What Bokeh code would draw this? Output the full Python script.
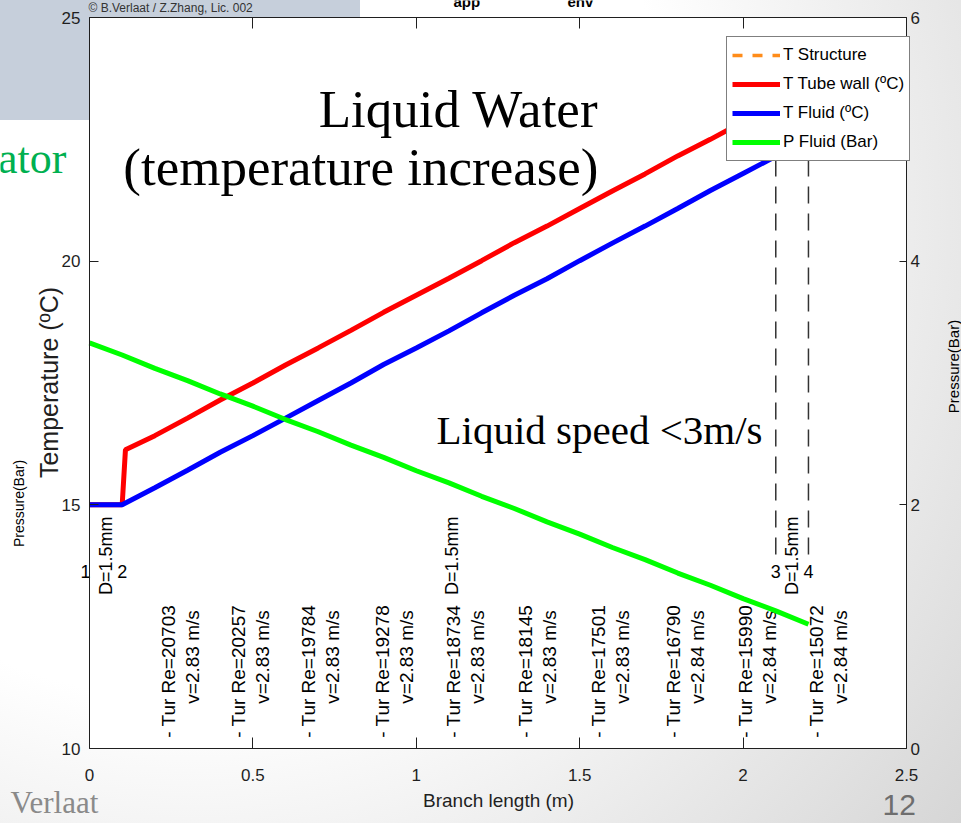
import math

from bokeh.plotting import figure
from bokeh.models import (Range1d, LinearAxis, FixedTicker, Label, Legend,
                          LegendItem, ColumnDataSource, CustomLabelingPolicy)
from bokeh.core.properties import value
from bokeh.embed import file_html
from bokeh.resources import INLINE

# ---------------------------------------------------------------- data
# Position along the branch (m)
branch_x = [0.0, 0.1, 0.2, 0.3, 0.4, 0.5, 0.6, 0.7, 0.8, 0.9, 1.0, 1.1,
            1.2, 1.3, 1.4, 1.5, 1.6, 1.7, 1.8, 1.9, 2.0, 2.1, 2.2]
# Fluid temperature (degC)
t_fluid = [15.00, 15.00, 15.35, 15.71, 16.08, 16.42, 16.78, 17.14, 17.50,
           17.88, 18.22, 18.57, 18.94, 19.30, 19.64, 20.01, 20.37, 20.72,
           21.08, 21.45, 21.80, 22.15, 22.52]
# Fluid pressure (bar)
p_fluid = [3.33, 3.23, 3.12, 3.02, 2.91, 2.81, 2.70, 2.60, 2.49, 2.39, 2.28,
           2.18, 2.07, 1.97, 1.86, 1.76, 1.65, 1.55, 1.44, 1.34, 1.23, 1.13,
           1.02]
# Tube wall temperature (degC), heated from 0.11 m on
wall_x = [0.0, 0.1, 0.11, 0.2, 0.3, 0.4, 0.5, 0.6, 0.7, 0.8, 0.9, 1.0, 1.1,
          1.2, 1.3, 1.4, 1.5, 1.6, 1.7, 1.8, 1.9, 2.0, 2.1, 2.2]
t_wall = [15.00, 15.00, 16.13, 16.42, 16.78, 17.15, 17.50, 17.87, 18.22,
          18.58, 18.95, 19.30, 19.65, 20.01, 20.38, 20.72, 21.08, 21.44,
          21.79, 22.16, 22.50, 22.86, 23.21, 23.57]
# Structure temperature: not sampled in this run
structure_x = [float("nan")]
t_structure = [float("nan")]

# Nodes of the branch
node_x = [0.0, 0.1, 2.1, 2.2]
node_names = ["1", "2", "3", "4"]
marked_node_x = [2.1, 2.2]
marker_t_low = 13.98
marker_t_high = 23.6

# Tube diameters
diam_x = [0.05, 1.11, 2.15]
diam_text = ["D=1.5mm", "D=1.5mm", "D=1.5mm"]

# Flow regime per section
section_x = [0.242, 0.456, 0.670, 0.896, 1.113, 1.333, 1.557, 1.786, 2.006,
             2.226]
section_re = [20703, 20257, 19784, 19278, 18734, 18145, 17501, 16790, 15990,
              15072]
section_v = [2.83, 2.83, 2.83, 2.83, 2.83, 2.83, 2.83, 2.84, 2.84, 2.84]

x_ticks = [0, 0.5, 1, 1.5, 2, 2.5]
t_ticks = [10, 15, 20, 25]
p_ticks = [0, 2, 4, 6]

# ---------------------------------------------------------------- layout
W, H = 961, 823
# pixel box of the axes inside the page
BOX_L, BOX_R, BOX_T, BOX_B = 89, 906, 17, 748

SANS = "Liberation Sans"
SERIF = "Liberation Serif"
INK = "#1f1f1f"

x_lo, x_hi = x_ticks[0], x_ticks[-1]
t_lo, t_hi = t_ticks[0], t_ticks[-1]
p_lo, p_hi = p_ticks[0], p_ticks[-1]


def stretch(lo, hi, px_lo, px_hi, px_min, px_max):
    """Range whose [lo, hi] lands on pixels [px_lo, px_hi] of a canvas
    spanning [px_min, px_max]."""
    k = (hi - lo) / (px_hi - px_lo)
    return Range1d(lo - (px_lo - px_min) * k, hi + (px_max - px_hi) * k)


# The frame fills the whole page; the axes are pinned to the data box.
p = figure(width=W, height=H,
           x_range=stretch(x_lo, x_hi, BOX_L, BOX_R, 0, W),
           y_range=stretch(t_lo, t_hi, H - BOX_B, H - BOX_T, 0, H),
           x_axis_location=None, y_axis_location=None,
           output_backend="svg", toolbar_location=None, min_border=0)
p.extra_y_ranges = {"pres": stretch(p_lo, p_hi, H - BOX_B, H - BOX_T, 0, H)}
p.xgrid.visible = False
p.ygrid.visible = False
p.background_fill_color = None
p.border_fill_color = None
p.outline_line_color = None
p.styles = {
    "background": (
        "linear-gradient(#c6cfdb, #c6cfdb) 0 0 / 360px 120px no-repeat, "
        "radial-gradient(circle farthest-corner at 20% 25%, "
        "#ffffff 50%, #d6d6d6 100%)"
    )
}

# white axes background
p.quad(left=x_lo, right=x_hi, bottom=t_lo, top=t_hi,
       fill_color="white", line_color=None)


def style_axis(ax, tick_len, standoff):
    ax.axis_line_color = INK
    ax.major_tick_line_color = INK
    ax.major_tick_in = tick_len
    ax.major_tick_out = 0
    ax.minor_tick_line_color = None
    ax.major_label_text_font = SANS
    ax.major_label_text_font_size = "17px"
    ax.major_label_text_color = INK
    ax.major_label_standoff = standoff


xa = LinearAxis(fixed_location=t_lo, bounds=(x_lo, x_hi),
                ticker=FixedTicker(ticks=x_ticks))
style_axis(xa, 11, 20)
p.add_layout(xa, "below")

# mirrored ticks along the top edge, without labels
ta = LinearAxis(fixed_location=t_hi, bounds=(x_lo, x_hi),
                ticker=FixedTicker(ticks=x_ticks),
                major_label_policy=CustomLabelingPolicy(code="return []"))
style_axis(ta, 11, 0)
p.add_layout(ta, "above")

ya = LinearAxis(fixed_location=x_lo, bounds=(t_lo, t_hi),
                ticker=FixedTicker(ticks=t_ticks))
style_axis(ya, 9, 9)
p.add_layout(ya, "left")

ra = LinearAxis(y_range_name="pres", fixed_location=x_hi,
                bounds=(p_lo, p_hi), ticker=FixedTicker(ticks=p_ticks))
style_axis(ra, 7, 4)
p.add_layout(ra, "right")

# ---------------------------------------------------------------- in-plot annotations
sections = ColumnDataSource(dict(
    x=section_x,
    line1=[f"- Tur  Re={r}" for r in section_re],
    line2=[f"v={v:.2f} m/s" for v in section_v],
))
p.text(x="x", y=10.22, text="line1", source=sections, angle=math.pi / 2,
       text_align="left", text_baseline="middle", text_color="black",
       text_font=value(SANS), text_font_size="19px")
p.text(x="x", y=10.92, text="line2", source=sections, angle=math.pi / 2,
       x_offset=24, text_align="left", text_baseline="middle",
       text_color="black", text_font=value(SANS), text_font_size="19px")

p.text(x=diam_x, y=[13.15] * len(diam_x), text=diam_text, angle=math.pi / 2,
       text_align="left", text_baseline="middle", text_color="black",
       text_font=value(SANS), text_font_size="18px")

p.segment(x0=marked_node_x, y0=[marker_t_low] * len(marked_node_x),
          x1=marked_node_x, y1=[marker_t_high] * len(marked_node_x),
          line_color="#333333", line_width=1.5, line_dash="17 10")

p.text(x=node_x, y=[13.64] * len(node_x), text=node_names,
       x_offset=[-4, 0, 0, 0], text_align="center", text_baseline="middle",
       text_color="black", text_font=value(SANS), text_font_size="18px")

# ---------------------------------------------------------------- series
r_struct = p.line(structure_x, t_structure, line_color="#ff8c1a",
                  line_width=3.5, line_dash="10 10")
r_wall = p.line(wall_x, t_wall, line_color="#ff0000", line_width=5)
r_fluid = p.line(branch_x, t_fluid, line_color="#0000ff", line_width=5)
r_pres = p.line(branch_x, p_fluid, line_color="#00ff00", line_width=5,
                y_range_name="pres")

legend = Legend(items=[
    LegendItem(label="T Structure", renderers=[r_struct]),
    LegendItem(label="T Tube wall (ºC)", renderers=[r_wall]),
    LegendItem(label="T Fluid (ºC)", renderers=[r_fluid]),
    LegendItem(label="P Fluid (Bar)", renderers=[r_pres]),
], location=(726, H - 161))
legend.border_line_color = "black"
legend.border_line_width = 1
legend.background_fill_color = "white"
legend.background_fill_alpha = 1
legend.label_text_font = SANS
legend.label_text_font_size = "17px"
legend.label_text_color = "black"
legend.glyph_width = 48
legend.glyph_height = 26
legend.label_height = 26
legend.label_standoff = 3
legend.spacing = 3
legend.padding = 5
legend.margin = 0
p.add_layout(legend)


# ---------------------------------------------------------------- page texts
def page_label(text, cx, cy, **kw):
    """Text centred (vertically) on page pixel (cx, cy)."""
    return Label(x=cx, y=H - cy, x_units="screen", y_units="screen",
                 text=text, text_baseline="middle", **kw)


def line_label(text, cx, base, size, **kw):
    """Single text line sitting on the page baseline `base`."""
    return Label(x=cx, y=H - (base - 0.375 * size), x_units="screen",
                 y_units="screen", text=text, text_baseline="alphabetic",
                 text_font_size=f"{size}px", **kw)


p.add_layout(page_label("Branch length (m)", 498, 800, text_align="center",
                        text_font=SANS, text_font_size="19px",
                        text_color=INK))
p.add_layout(page_label("Temperature (ºC)", 48, 382, angle=math.pi / 2,
                        text_align="center", text_font=SANS,
                        text_font_size="25px", text_color=INK))
p.add_layout(page_label("Pressure(Bar)", 18, 503, angle=math.pi / 2,
                        text_align="center", text_font=SANS,
                        text_font_size="14px", text_color="black"))
p.add_layout(page_label("Pressure(Bar)", 953, 366, angle=math.pi / 2,
                        text_align="center", text_font=SANS,
                        text_font_size="15px", text_color="black"))

p.add_layout(line_label("Liquid Water", 598, 128, 53, text_align="right",
                        text_font=SERIF, text_color="black"))
p.add_layout(line_label("(temperature increase)", 598, 186, 53,
                        text_align="right", text_font=SERIF,
                        text_color="black"))
p.add_layout(line_label("Liquid speed <3m/s", 762, 445, 41,
                        text_align="right", text_font=SERIF,
                        text_color="black"))
p.add_layout(line_label("© B.Verlaat / Z.Zhang, Lic. 002", 88, 12, 12,
                        text_align="left", text_font=SANS,
                        text_color="#333333"))
p.add_layout(line_label("app", 453, 7, 15, text_align="left",
                        text_font=SANS, text_font_style="bold",
                        text_color="black"))
p.add_layout(line_label("env", 567, 7, 15, text_align="left",
                        text_font=SANS, text_font_style="bold",
                        text_color="black"))
p.add_layout(line_label("ator", 66, 174, 44, text_align="right",
                        text_font=SERIF, text_color="#00b050"))
p.add_layout(line_label("Verlaat", 10, 814, 31, text_align="left",
                        text_font=SERIF, text_color="#8a8a8a"))
p.add_layout(line_label("12", 882, 816, 30, text_align="left",
                        text_font=SANS, text_color="#6e6e6e"))

open("out.html", "w").write(file_html(p, INLINE))
